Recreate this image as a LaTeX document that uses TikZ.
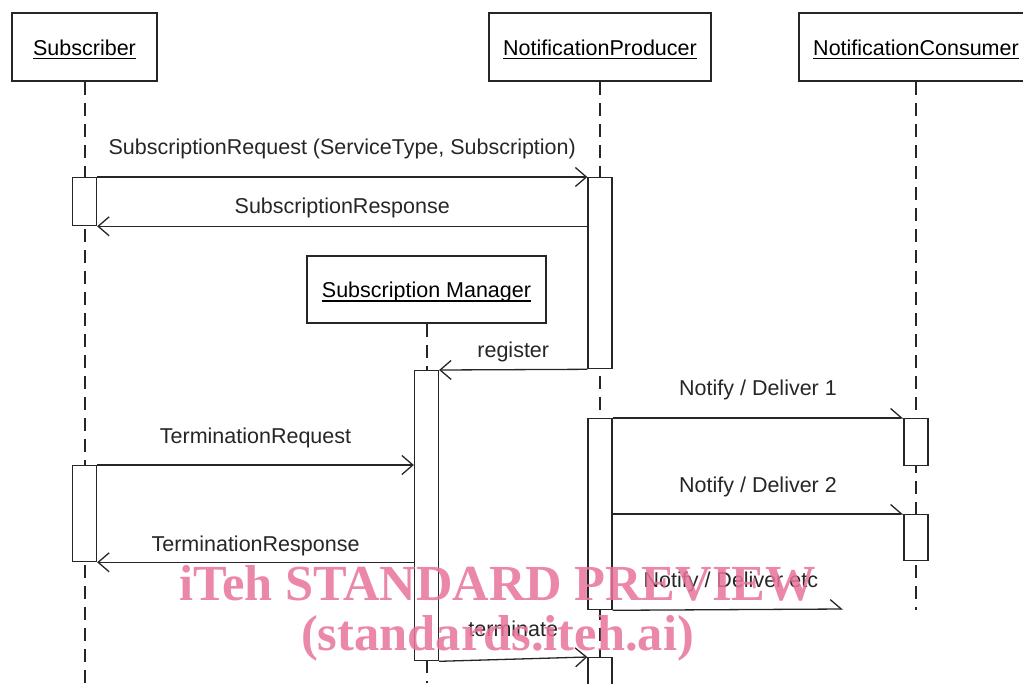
\documentclass[tikz,border=0pt]{standalone}
\usepackage{fontspec}
\setmainfont{Liberation Sans}
\newfontfamily\wmfont{Liberation Serif}
\usetikzlibrary{arrows.meta}
\definecolor{wmpink}{RGB}{232,114,154}
\def\uname#1{\setbox0\hbox{#1}\rlap{\rule[-4pt]{\wd0}{1.2pt}}\box0}
\tikzset{
	actor/.style={draw=black!85, line width=1.6pt, fill=white, inner sep=0pt, text height=16pt, text depth=0pt, font=\fontsize{21.5}{25}\selectfont},
	bar/.style={draw=black!85, line width=1.3pt, fill=white, anchor=north, minimum width=24pt, inner sep=0pt},
	lifeline/.style={black!85, line width=2pt, dash pattern=on 13pt off 8pt},
	msg/.style={black!85, line width=1.3pt, -{Straight Barb[length=11pt,width=19pt]}},
	async/.style={black!85, line width=1.3pt, -{Straight Barb[left,length=11pt,width=19pt]}},
	msglabel/.style={anchor=base, inner sep=0pt, font=\fontsize{21.5}{25}\selectfont},
	watermark/.style={anchor=base, inner sep=0pt, text=wmpink, text opacity=0.85, font=\wmfont\bfseries\fontsize{50.5}{55}\selectfont}
}

\begin{document}
\begin{tikzpicture}[x=10pt, y=-10pt]
			%%%%% START %%%%%
			
			\useasboundingbox (0,0) rectangle (102.3,68.3);
			\clip (0,0) rectangle (102.3,68.3);
			\coordinate (bottom) at (0,68.3);
			\coordinate (consumerend) at (91.6,61.0);
			\coordinate (etcend) at (84.3,60.9);
			
			\node[actor, minimum width=145pt, minimum height=68pt] (subscriber) at (8.45,4.7) {\uname{Subscriber}};
			\node[actor, minimum width=222pt, minimum height=68pt] (producer) at (60.0,4.7) {\uname{NotificationProducer}};
			\node[actor, minimum width=234pt, minimum height=68pt] (consumer) at (91.6,4.7) {\uname{NotificationConsumer}};
			\node[actor, minimum width=239pt, minimum height=67pt] (manager) at (42.65,28.95) {\uname{Subscription Manager}};
			
			\draw[lifeline] (subscriber.south) -- (subscriber.south |- bottom);
			\draw[lifeline] (producer.south) -- (producer.south |- bottom);
			\draw[lifeline] (manager.south) -- (manager.south |- bottom);
			\draw[lifeline] (consumer.south) -- (consumerend);
			
			\node[bar, minimum height=48pt] (subA) at (8.45,17.7) {};
			\node[bar, minimum height=191pt] (prodA) at (60.0,17.7) {};
			\node[bar, minimum height=290pt] (manA) at (42.65,37.0) {};
			\node[bar, minimum height=96pt] (subB) at (8.45,46.5) {};
			\node[bar, minimum height=191pt] (prodB) at (60.0,41.8) {};
			\node[bar, minimum height=47pt] (consA) at (91.6,41.8) {};
			\node[bar, minimum height=46pt] (consB) at (91.6,51.4) {};
			\node[bar, minimum height=40pt] (prodC) at (60.0,65.7) {};
			
			\draw[msg] (subA.north east) -- (prodA.north west) node[msglabel, midway, yshift=23pt] (lblreq) {SubscriptionRequest (ServiceType, Subscription)};
			\draw[msg] (prodA.west |- subA.south) -- (subA.south east) node[msglabel, midway, yshift=13pt] (lblresp) {SubscriptionResponse};
			\draw[msg] (prodA.south west) -- (manA.north east) node[msglabel, midway, yshift=12pt] (lblreg) {register};
			
			\draw[async] (prodB.north east) -- (consA.north west) node[msglabel, midway, yshift=23pt] (lblnotA) {Notify / Deliver 1};
			\draw[msg] (subB.north east) -- (manA.west |- subB.north) node[msglabel, midway, yshift=22pt] (lbltreq) {TerminationRequest};
			\draw[async] (prodB.east |- consB.north) -- (consB.north west) node[msglabel, midway, yshift=22pt] (lblnotB) {Notify / Deliver 2};
			\draw[msg] (manA.west |- subB.south) -- (subB.south east) node[msglabel, midway, yshift=11pt] (lbltresp) {TerminationResponse};
			\draw[async] (prodB.south east) -- (etcend) node[msglabel, midway, xshift=3pt, yshift=22pt] (lblnotC) {Notify / Deliver etc};
			\draw[msg] (manA.south east) -- (prodC.north west) node[msglabel, midway, yshift=23pt] (lblterm) {terminate};
			
			\node[watermark] (wmtitle) at (49.75,60.0) {iTeh STANDARD PREVIEW};
			\node[watermark] (wmsite) at (49.75,65.0) {(standards.iteh.ai)};
			
			%%%%% END %%%%%
		\end{tikzpicture}
\end{document}
